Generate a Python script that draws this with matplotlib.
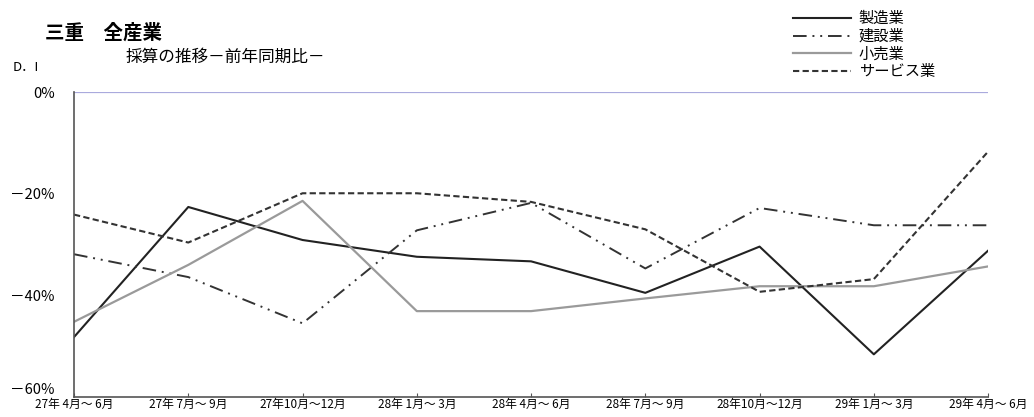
#!/usr/bin/env python

import matplotlib
matplotlib.use("Agg")
import matplotlib.pyplot as plt
from matplotlib.transforms import ScaledTranslation

plt.rcParams['font.family'] = ['Noto Sans CJK JP', 'DejaVu Sans']

# Quarter labels (x axis)
periods = ["27年 4月～ 6月", "27年 7月～ 9月", "27年10月～12月", "28年 1月～ 3月",
           "28年 4月～ 6月", "28年 7月～ 9月", "28年10月～12月", "29年 1月～ 3月",
           "29年 4月～ 6月"]

# D.I values in percent
seizo = [-48.2, -22.6, -29.1, -32.4, -33.3, -39.5, -30.4, -51.6, -31.2]
kensetsu = [-31.9, -36.4, -45.5, -27.2, -21.8, -34.7, -22.8, -26.2, -26.2]
kouri = [-45.2, -34.0, -21.4, -43.1, -43.1, -40.6, -38.2, -38.2, -34.3]
service = [-24.1, -29.6, -19.9, -19.9, -21.6, -27.0, -39.3, -36.8, -11.7]

series_names = ["製造業", "建設業", "小売業", "サービス業"]
y_ticks = [0, -20, -40, -60]
y_tick_labels = ["0%", "－20%", "－40%", "－60%"]


def main() -> None:
    fig = plt.figure(figsize=(10.34, 4.17), dpi=100)
    ax = fig.add_axes([0.0716, 0.048, 0.884, 0.731])

    x = range(len(periods))

    # Reference line at 0%
    ax.axhline(0, color='#aaaadd', lw=1.6, zorder=1)

    ax.plot(x, seizo, color='#222222', lw=1.5, label=series_names[0])
    ax.plot(x, kensetsu, color='#333333', lw=1.4,
            dashes=(7, 3, 1, 3, 1, 3), label=series_names[1])
    ax.plot(x, kouri, color='#9a9a9a', lw=1.6, label=series_names[2])
    ax.plot(x, service, color='#333333', lw=1.5,
            dashes=(3, 1.6), label=series_names[3])

    ax.set_xlim(0, len(periods) - 1)
    ax.set_ylim(-60, 0)

    ax.set_xticks(list(x))
    ax.set_xticklabels(periods, fontsize=8.5)
    ax.set_yticks(y_ticks)
    ax.set_yticklabels(y_tick_labels, fontsize=10.5)

    ax.tick_params(axis='x', direction='in', length=3, color='#555555', pad=1)
    ax.tick_params(axis='y', length=0, pad=14)

    # lift the bottom y label a few pixels so it clears the x labels
    low = ax.get_yticklabels()[-1]
    low.set_transform(low.get_transform()
                      + ScaledTranslation(0, 6 / 72, fig.dpi_scale_trans))

    for side in ['top', 'right']:
        ax.spines[side].set_visible(False)
    for side in ['left', 'bottom']:
        ax.spines[side].set_color('#555555')
        ax.spines[side].set_linewidth(1.2)

    # Titles
    fig.text(0.044, 0.921, "三重　全産業", fontsize=14, fontweight='bold',
             va='center')
    fig.text(0.121, 0.863, "採算の推移－前年同期比－", fontsize=12, va='center')
    fig.text(0.012, 0.839, "D．I", fontsize=9.5, va='center')

    fig.legend(loc='upper left', bbox_to_anchor=(0.755, 1.005),
               frameon=False, fontsize=11, handlelength=3.8,
               handletextpad=0.5, labelspacing=0.05, borderpad=0.3)

    fig.savefig("out.png", dpi=100)


if __name__ == "__main__":
    main()
